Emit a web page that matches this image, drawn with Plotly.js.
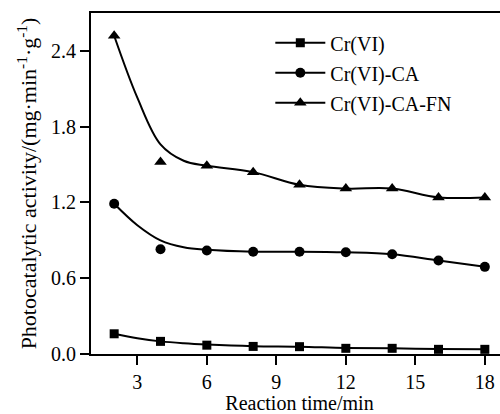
<!DOCTYPE html>
<html>
<head>
<meta charset="utf-8">
<script src="https://cdn.plot.ly/plotly-3.0.1.min.js"></script>
<style>
  html, body { margin: 0; padding: 0; overflow: hidden; background: #fff; }
  #chart { width: 520px; height: 414px; }
  #chart text { font-family: "Liberation Serif", "Times New Roman", serif !important; }
</style>
</head>
<body>
<div id="chart"></div>
<script>
// Reaction time (min) at which activity was measured
const time = [2, 4, 6, 8, 10, 12, 14, 16, 18];

// Measured photocatalytic activity (mg·min⁻¹·g⁻¹)
const crVI     = [0.16, 0.10, 0.07, 0.06, 0.058, 0.045, 0.045, 0.037, 0.037];
const crVICA   = [1.19, 0.83, 0.82, 0.81, 0.81, 0.805, 0.79, 0.74, 0.69];
const crVICAFN = [2.52, 1.52, 1.49, 1.44, 1.34, 1.31, 1.31, 1.24, 1.24];

// Smoothed trend curves drawn through the measurements
const fitTime     = [2, 3, 4, 5, 6, 8, 10, 12, 14, 16, 18];
const fitCrVI     = [0.16, 0.125, 0.10, 0.085, 0.075, 0.062, 0.058, 0.048, 0.045, 0.04, 0.037];
const fitCrVICA   = [1.19, 1.02, 0.90, 0.845, 0.825, 0.81, 0.81, 0.805, 0.79, 0.74, 0.69];
const fitCrVICAFN = [2.52, 2.03, 1.66, 1.53, 1.49, 1.44, 1.34, 1.31, 1.31, 1.24, 1.24];

const names   = ['Cr(VI)', 'Cr(VI)-CA', 'Cr(VI)-CA-FN'];
const symbols = ['square', 'circle', 'triangle-up'];
const sizes   = [9, 10, 11];
const points  = [crVI, crVICA, crVICAFN];
const fits    = [fitCrVI, fitCrVICA, fitCrVICAFN];

const black = '#000000';
const serif = '"Liberation Serif", "Times New Roman", serif';
const traces = [];

names.forEach((name, i) => {
  // trend curve
  traces.push({
    x: fitTime, y: fits[i], type: 'scatter', mode: 'lines',
    line: { color: black, width: 2, shape: 'spline', smoothing: 1 },
    showlegend: false, hoverinfo: 'skip', legendgroup: name
  });
  // measured points
  traces.push({
    x: time, y: points[i], type: 'scatter', mode: 'markers',
    marker: { symbol: symbols[i], size: sizes[i], color: black },
    showlegend: false, legendgroup: name, name: name
  });
  // legend entry (line with marker)
  traces.push({
    x: [null], y: [null], type: 'scatter', mode: 'lines+markers', name: name,
    line: { color: black, width: 2 },
    marker: { symbol: symbols[i], size: sizes[i], color: black },
    legendgroup: name
  });
});

const layout = {
  width: 520, height: 414,
  margin: { l: 91, r: 12, t: 13, b: 60 },
  paper_bgcolor: '#fff', plot_bgcolor: '#fff',
  font: { family: serif, color: black, size: 19 },
  showlegend: true,
  legend: {
    x: 0.43, y: 0.97, xanchor: 'left', yanchor: 'top',
    bgcolor: 'rgba(0,0,0,0)', font: { family: serif, size: 20, color: black },
    tracegroupgap: 1, itemwidth: 50
  },
  xaxis: {
    range: [1, 19], tickvals: [3, 6, 9, 12, 15, 18],
    showgrid: false, zeroline: false,
    showline: true, linecolor: black, linewidth: 2, mirror: true,
    ticks: 'outside', ticklen: 9, tickwidth: 2, tickcolor: black,
    tickfont: { family: serif, size: 20, color: black },
    title: { text: 'Reaction time/min', font: { family: serif, size: 20, color: black }, standoff: 9 }
  },
  yaxis: {
    range: [0, 2.7], tickvals: [0, 0.6, 1.2, 1.8, 2.4], tickformat: '.1f',
    showgrid: false, zeroline: false,
    showline: true, linecolor: black, linewidth: 2, mirror: true,
    ticks: 'outside', ticklen: 9, tickwidth: 2, tickcolor: black,
    tickfont: { family: serif, size: 20, color: black },
    title: { text: 'Photocatalytic activity/(mg·min<sup>-1</sup>·g<sup>-1</sup>)', font: { family: serif, size: 22, color: black }, standoff: 8 }
  }
};

Plotly.newPlot('chart', traces, layout, { displayModeBar: false, staticPlot: true });
</script>
</body>
</html>
